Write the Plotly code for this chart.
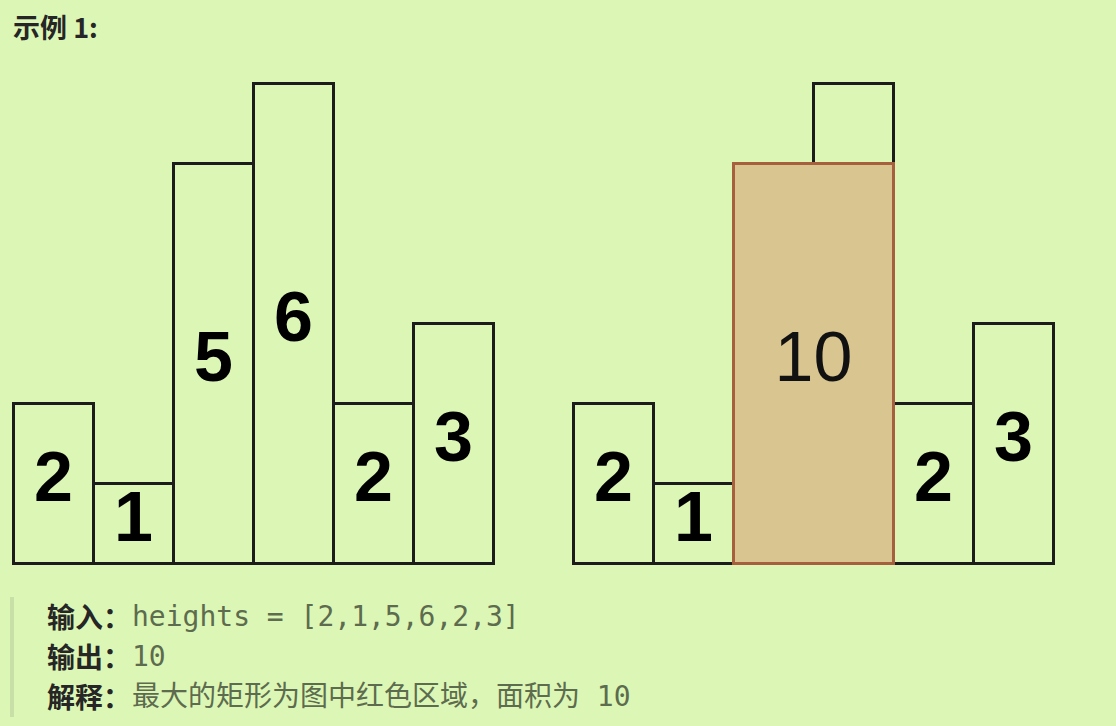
import plotly.graph_objects as go

# ---- data ----
heights = [2, 1, 5, 6, 2, 3]
bar_labels = ["2", "1", "5", "6", "2", "3"]
best_left = 2          # index of first bar in max rectangle
best_right = 3         # index of last bar in max rectangle
best_height = 5
best_area = "10"
right_offset = 7       # second chart starts 7 slots to the right

title_text = "示例 1:"
row_labels = ["输入：", "输出：", "解释："]
row_values = ["heights = [2,1,5,6,2,3]", "10", "最大的矩形为图中红色区域，面积为 10"]

# ---- style ----
BG = "#dcf7b5"
LINE = "#1c1c1c"
TAN = "#d9c58f"
BROWN = "#a6603d"
W, H = 1116, 726

fig = go.Figure()

xs_left = list(range(len(heights)))
xs_right = [i + right_offset for i in xs_left]

# left histogram
fig.add_trace(go.Bar(x=xs_left, y=heights, width=1,
                     marker=dict(color="rgba(0,0,0,0)", line=dict(color=LINE, width=3)),
                     hoverinfo="skip"))
# right histogram
fig.add_trace(go.Bar(x=xs_right, y=heights, width=1,
                     marker=dict(color="rgba(0,0,0,0)", line=dict(color=LINE, width=3)),
                     hoverinfo="skip"))
# highlighted max rectangle
fig.add_trace(go.Bar(x=[right_offset + (best_left + best_right) / 2],
                     y=[best_height], width=[best_right - best_left + 1],
                     marker=dict(color=TAN, line=dict(color=BROWN, width=3)),
                     hoverinfo="skip"))

# labels on left chart
fig.add_trace(go.Scatter(x=xs_left, y=[h / 2 for h in heights], mode="text",
                         text=[f"<b>{t}</b>" for t in bar_labels],
                         textposition="middle center",
                         textfont=dict(family="Liberation Sans, Arial", size=70, color="#000"),
                         hoverinfo="skip"))
# labels on right chart (except bars inside the rectangle)
rx, ry, rt = [], [], []
for i, h in enumerate(heights):
    if best_left <= i <= best_right:
        continue
    rx.append(xs_right[i]); ry.append(h / 2); rt.append(f"<b>{bar_labels[i]}</b>")
fig.add_trace(go.Scatter(x=rx, y=ry, mode="text", text=rt, textposition="middle center",
                         textfont=dict(family="Liberation Sans, Arial", size=70, color="#000"),
                         hoverinfo="skip"))
fig.add_trace(go.Scatter(x=[right_offset + (best_left + best_right) / 2], y=[best_height / 2],
                         mode="text", text=[best_area], textposition="middle center",
                         textfont=dict(family="Liberation Sans, Arial", size=70, color="#111"),
                         hoverinfo="skip"))

# axes: 80 px per unit, bar 0 left edge at pixel ~13, baseline at pixel 563
unit = 80.0
x0 = -0.5 - 13.5 / unit
y_top = 563.5 / unit
y_bot = -(H - 563.5) / unit
fig.update_xaxes(range=[x0, x0 + W / unit], visible=False, fixedrange=True)
fig.update_yaxes(range=[y_bot, y_top], visible=False, fixedrange=True)

def py(p):
    return 1 - p / H

# title
fig.add_annotation(x=11 / W, y=py(27), xref="paper", yref="paper", xanchor="left", yanchor="middle",
                   text=f"<b>{title_text}</b>", showarrow=False,
                   font=dict(family="Noto Sans CJK SC", size=27, color="#262626"))

# blockquote left bar
fig.add_shape(type="rect", xref="paper", yref="paper", x0=10 / W, x1=14 / W,
              y0=py(717), y1=py(597), line=dict(width=0), fillcolor="#c8dfa8", layer="below")

row_y = [616, 656, 696]
for lab, val, yy in zip(row_labels, row_values, row_y):
    fig.add_annotation(x=45 / W, y=py(yy), xref="paper", yref="paper", xanchor="left", yanchor="middle",
                       text=f"<b>{lab}</b>", showarrow=False,
                       font=dict(family="Noto Sans CJK SC", size=28, color="#262626"))
    fig.add_annotation(x=130 / W, y=py(yy), xref="paper", yref="paper", xanchor="left", yanchor="middle",
                       text=val, showarrow=False,
                       font=dict(family="DejaVu Sans Mono, Noto Sans CJK SC", size=28, color="#5d6b4e"))

fig.update_layout(width=W, height=H, margin=dict(l=0, r=0, t=0, b=0, pad=0),
                  paper_bgcolor=BG, plot_bgcolor=BG, showlegend=False, barmode="overlay",
                  bargap=0)

fig.write_html("out.html", config={"displayModeBar": False})
